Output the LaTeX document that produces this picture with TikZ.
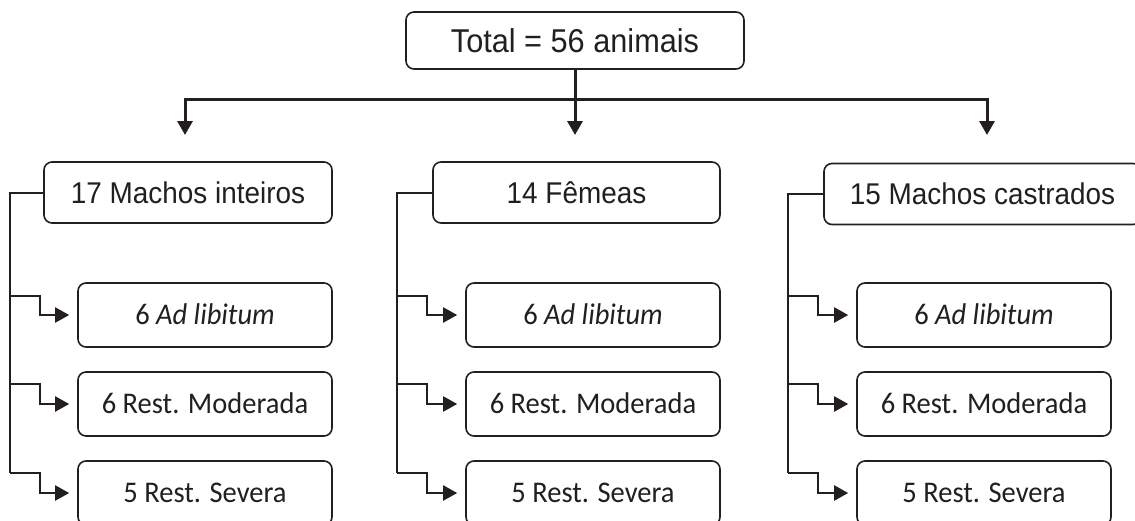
\documentclass[tikz,border=0pt]{standalone}
\usepackage{fontspec}
\setmainfont[FakeStretch=0.93]{Liberation Sans}
\newfontfamily\calibfont[FakeStretch=0.95]{Carlito}
\usetikzlibrary{arrows.meta}
\definecolor{ink}{HTML}{231F20}
\tikzset{
  boxbase/.style={draw=ink, line width=1.6pt, rounded corners=8pt, text=ink, inner sep=0pt},
  topbox/.style={boxbase, minimum width=338pt, minimum height=57pt, font=\fontsize{33}{38}\selectfont, text height=23.5pt, text depth=0pt},
  headbox/.style={boxbase, minimum height=61pt, font=\fontsize{30}{35}\selectfont, text height=21.5pt, text depth=0pt},
  subbox/.style={boxbase, minimum width=254pt, minimum height=64pt, font=\calibfont\fontsize{30}{35}\selectfont, text height=19.5pt, text depth=0pt},
  conn/.style={draw=ink, line width=2pt},
  busline/.style={draw=ink, line width=3pt, -{Triangle[width=15pt,length=14pt]}},
  brarrow/.style={draw=ink, line width=2pt, -{Triangle[width=15pt,length=14pt]}, shorten >=8pt},
}
\begin{document}
\begin{tikzpicture}[x=1pt, y=-1pt]
\useasboundingbox (0,0) rectangle (1135,520);
\clip (0,0) rectangle (1135,520);
\fill[white] (0,0) rectangle (1135,520);

% top
\node[topbox] (top) at (575,40.5) {Total = 56 animais};

% headers
\node[headbox, minimum width=288pt] (h1) at (188,192.5) {17 Machos inteiros};
\node[headbox, minimum width=287pt] (h2) at (576.5,192.5) {14 Fêmeas};
\node[headbox, minimum width=317pt] (h3) at (982.5,194) {15 Machos castrados};

% bus
\coordinate (a1) at (185,135);
\coordinate (a2) at (575,135);
\coordinate (a3) at (987,135);
\coordinate (b3) at (987,99);
\draw[busline, {Triangle[width=15pt,length=14pt]}-{Triangle[width=15pt,length=14pt]}] (a1) |- (b3) -- (a3);
\draw[busline] (top.south) -- (a2);

% sub boxes
\node[subbox] (s11) at (205,315) {6 \textit{Ad libitum}};
\node[subbox] (s12) at (205,404) {6 Rest. Moderada};
\node[subbox] (s13) at (205,493) {5 Rest. Severa};
\node[subbox] (s21) at (593,315) {6 \textit{Ad libitum}};
\node[subbox] (s22) at (593,404) {6 Rest. Moderada};
\node[subbox] (s23) at (593,493) {5 Rest. Severa};
\node[subbox] (s31) at (984,315) {6 \textit{Ad libitum}};
\node[subbox] (s32) at (984,404) {6 Rest. Moderada};
\node[subbox] (s33) at (984,493) {5 Rest. Severa};

% group connectors
\foreach \g/\vx in {1/10, 2/397, 3/788} {
  \coordinate (c\g1) at (\vx,296);
  \coordinate (c\g2) at (\vx,384);
  \coordinate (c\g3) at (\vx,473);
  \draw[conn] (h\g.west) -| (c\g3);
  \draw[brarrow] (c\g1) -- ++(30,0) |- (s\g1.west);
  \draw[brarrow] (c\g2) -- ++(30,0) |- (s\g2.west);
  \draw[brarrow] (c\g3) -- ++(30,0) |- (s\g3.west);
}
\end{tikzpicture}
\end{document}
